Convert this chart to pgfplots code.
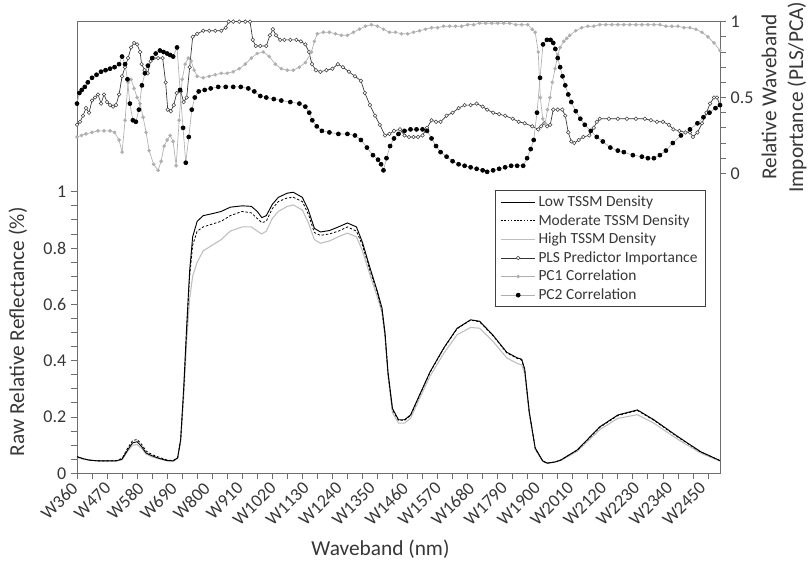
\documentclass[border=0pt]{standalone}
\usepackage{fontspec}
\setmainfont{Carlito}
\usepackage{pgfplots}
\usepackage{pgfplotstable}
\pgfplotsset{compat=1.18}
\definecolor{axgray}{RGB}{110,110,110}
\definecolor{txt}{RGB}{55,55,55}
\definecolor{lgray}{RGB}{190,190,190}
\definecolor{pcgray}{RGB}{175,175,175}

\pgfplotstableread{
nm low mod high
360 0.059 0.058 0.056
380 0.052 0.052 0.050
400 0.047 0.047 0.046
430 0.044 0.044 0.044
460 0.044 0.044 0.044
490 0.044 0.045 0.043
510 0.050 0.053 0.048
530 0.085 0.092 0.080
545 0.108 0.116 0.100
560 0.112 0.120 0.102
575 0.095 0.103 0.088
590 0.072 0.079 0.068
610 0.062 0.066 0.058
630 0.054 0.058 0.052
660 0.045 0.047 0.044
680 0.044 0.045 0.043
695 0.055 0.055 0.052
705 0.120 0.120 0.110
715 0.300 0.290 0.270
725 0.520 0.510 0.470
735 0.720 0.700 0.620
745 0.840 0.810 0.700
760 0.895 0.860 0.750
780 0.915 0.875 0.790
810 0.922 0.885 0.810
840 0.930 0.895 0.830
870 0.945 0.915 0.860
910 0.950 0.930 0.875
940 0.948 0.925 0.875
960 0.930 0.905 0.860
975 0.908 0.890 0.850
990 0.915 0.895 0.860
1010 0.955 0.940 0.905
1030 0.980 0.965 0.930
1060 0.995 0.978 0.948
1080 0.998 0.980 0.953
1110 0.980 0.965 0.935
1130 0.935 0.920 0.890
1150 0.870 0.855 0.830
1170 0.857 0.845 0.817
1200 0.862 0.850 0.825
1230 0.875 0.860 0.840
1260 0.889 0.875 0.853
1290 0.875 0.860 0.840
1310 0.820 0.810 0.790
1335 0.730 0.720 0.705
1360 0.645 0.640 0.625
1375 0.587 0.580 0.570
1385 0.500 0.495 0.485
1395 0.360 0.355 0.345
1410 0.230 0.225 0.215
1430 0.190 0.188 0.178
1450 0.190 0.188 0.178
1470 0.207 0.205 0.195
1500 0.278 0.276 0.265
1535 0.360 0.358 0.345
1580 0.444 0.442 0.425
1625 0.515 0.513 0.492
1670 0.545 0.544 0.518
1700 0.540 0.538 0.515
1745 0.490 0.488 0.468
1790 0.430 0.428 0.410
1825 0.410 0.408 0.390
1840 0.405 0.402 0.385
1850 0.370 0.368 0.355
1865 0.220 0.218 0.210
1885 0.090 0.088 0.085
1910 0.044 0.043 0.042
1925 0.036 0.036 0.035
1950 0.040 0.040 0.039
1970 0.047 0.047 0.045
2025 0.083 0.082 0.078
2100 0.165 0.163 0.155
2160 0.207 0.205 0.195
2225 0.225 0.223 0.208
2280 0.190 0.188 0.178
2360 0.130 0.128 0.120
2435 0.077 0.076 0.072
2500 0.045 0.045 0.043
}\refl

\pgfplotstableread{
nm v
360 0.32
370 0.34
380 0.38
390 0.43
400 0.40
410 0.48
420 0.50
430 0.52
440 0.46
450 0.52
460 0.47
470 0.45
480 0.44
490 0.45
500 0.52
510 0.64
520 0.70
530 0.76
540 0.83
550 0.86
560 0.85
570 0.80
575 0.72
585 0.68
595 0.66
605 0.74
615 0.76
630 0.76
645 0.76
655 0.60
662 0.42
672 0.41
682 0.45
692 0.53
705 0.54
715 0.47
725 0.50
735 0.70
745 0.90
760 0.92
780 0.94
800 0.94
820 0.94
840 0.94
855 0.96
865 1.00
880 1.00
900 1.00
920 1.00
936 1.00
945 0.88
955 0.84
970 0.84
990 0.84
1002 0.91
1012 0.95
1022 0.91
1036 0.88
1050 0.88
1070 0.88
1090 0.88
1105 0.87
1120 0.85
1132 0.80
1142 0.72
1155 0.68
1170 0.67
1190 0.68
1210 0.69
1228 0.72
1245 0.70
1265 0.67
1285 0.64
1305 0.61
1318 0.53
1335 0.45
1352 0.38
1368 0.32
1385 0.25
1400 0.26
1415 0.28
1435 0.29
1450 0.25
1465 0.24
1480 0.24
1495 0.24
1510 0.25
1525 0.30
1540 0.35
1555 0.34
1570 0.34
1590 0.38
1610 0.40
1630 0.43
1650 0.45
1670 0.45
1690 0.46
1710 0.44
1725 0.42
1745 0.40
1765 0.39
1785 0.38
1810 0.36
1830 0.34
1850 0.33
1875 0.31
1895 0.29
1905 0.31
1915 0.33
1925 0.31
1935 0.32
1945 0.42
1960 0.42
1975 0.42
1985 0.38
1995 0.27
2005 0.21
2015 0.20
2030 0.22
2045 0.24
2065 0.25
2080 0.30
2090 0.34
2100 0.36
2130 0.36
2160 0.36
2190 0.36
2220 0.36
2250 0.36
2270 0.35
2290 0.34
2310 0.34
2330 0.32
2345 0.29
2365 0.28
2385 0.27
2400 0.27
2410 0.24
2425 0.27
2440 0.33
2455 0.40
2467 0.46
2480 0.50
2490 0.50
2500 0.45
}\pls

\pgfplotstableread{
nm v
360 0.24
375 0.25
390 0.26
410 0.27
430 0.28
450 0.28
470 0.28
485 0.27
500 0.22
510 0.14
520 0.35
530 0.60
540 0.62
550 0.56
560 0.50
570 0.46
580 0.37
590 0.27
600 0.15
615 0.06
630 0.02
640 0.08
650 0.18
660 0.22
670 0.25
680 0.21
690 0.05
700 0.35
710 0.62
720 0.72
730 0.76
740 0.74
750 0.68
760 0.64
780 0.63
800 0.64
820 0.65
840 0.66
860 0.66
880 0.67
900 0.69
920 0.72
940 0.76
960 0.79
980 0.80
1000 0.77
1020 0.72
1040 0.69
1060 0.68
1080 0.68
1100 0.70
1120 0.73
1140 0.80
1150 0.87
1160 0.92
1180 0.93
1200 0.93
1220 0.92
1240 0.91
1260 0.91
1280 0.93
1300 0.95
1320 0.97
1340 0.98
1360 0.97
1380 0.95
1400 0.93
1420 0.93
1440 0.92
1460 0.92
1480 0.93
1500 0.94
1520 0.95
1540 0.96
1560 0.96
1580 0.97
1600 0.97
1620 0.97
1640 0.97
1660 0.98
1680 0.98
1700 0.99
1720 0.99
1740 0.99
1760 0.99
1780 0.99
1800 0.99
1820 0.98
1840 0.98
1860 0.98
1875 0.95
1885 0.93
1895 0.80
1902 0.50
1910 0.36
1918 0.33
1926 0.42
1934 0.50
1942 0.60
1951 0.69
1960 0.78
1968 0.83
1980 0.87
1990 0.89
2000 0.91
2020 0.94
2040 0.96
2060 0.97
2080 0.97
2100 0.98
2120 0.98
2140 0.98
2160 0.98
2180 0.98
2200 0.98
2220 0.98
2240 0.98
2260 0.98
2280 0.98
2300 0.98
2320 0.97
2340 0.97
2360 0.97
2380 0.96
2400 0.96
2420 0.95
2440 0.93
2460 0.90
2480 0.86
2500 0.81
}\pcone

\pgfplotstableread{
nm v
360 0.46
368 0.53
376 0.55
386 0.57
396 0.60
410 0.63
425 0.65
440 0.67
455 0.68
470 0.69
485 0.70
500 0.72
510 0.77
520 0.72
528 0.62
536 0.46
546 0.35
556 0.34
566 0.42
576 0.58
586 0.66
596 0.71
610 0.76
622 0.79
636 0.81
648 0.80
660 0.79
670 0.78
680 0.77
693 0.83
703 0.55
713 0.30
722 0.07
732 0.24
742 0.42
752 0.50
765 0.54
785 0.55
805 0.56
830 0.57
855 0.57
880 0.57
905 0.57
930 0.56
950 0.54
970 0.51
990 0.50
1015 0.49
1040 0.48
1070 0.47
1100 0.46
1120 0.44
1133 0.40
1143 0.35
1158 0.31
1175 0.28
1200 0.27
1230 0.26
1260 0.26
1285 0.25
1305 0.22
1325 0.17
1345 0.12
1362 0.09
1372 0.06
1380 0.02
1390 0.10
1402 0.18
1415 0.23
1430 0.26
1450 0.28
1470 0.29
1490 0.29
1510 0.29
1525 0.28
1540 0.23
1555 0.18
1570 0.14
1590 0.11
1610 0.08
1630 0.06
1650 0.05
1670 0.04
1690 0.03
1710 0.02
1725 0.01
1745 0.02
1765 0.03
1785 0.04
1805 0.05
1825 0.05
1845 0.05
1858 0.10
1870 0.16
1880 0.22
1891 0.40
1901 0.63
1911 0.85
1924 0.88
1936 0.88
1945 0.86
1952 0.82
1960 0.76
1968 0.70
1976 0.64
1985 0.58
1995 0.52
2005 0.47
2020 0.41
2035 0.36
2050 0.32
2070 0.28
2090 0.24
2110 0.21
2135 0.17
2160 0.15
2180 0.14
2210 0.12
2240 0.11
2260 0.10
2280 0.10
2300 0.12
2320 0.15
2343 0.20
2370 0.25
2400 0.29
2425 0.33
2445 0.37
2465 0.40
2485 0.43
2500 0.45
}\pctwo

\begin{document}
\begin{tikzpicture}
\path[use as bounding box] (-57.75pt,-65.8pt) rectangle (548.25pt,354.95pt);
\begin{axis}[
  at={(0,0)}, anchor=south west,
  scale only axis, width=482.25pt, height=338.7pt,
  xmin=360, xmax=2500, ymin=0, ymax=1.604,
  axis line style={axgray, line width=0.6pt},
  every tick/.style={axgray, line width=0.6pt},
  tick align=outside,
  major tick length=4.5pt, minor tick length=4.5pt,
  xtick pos=bottom, ytick pos=left,
  xtick={360,470,...,2450},
  xticklabels={W360,W470,W580,W690,W800,W910,W1020,W1130,W1240,W1350,W1460,W1570,W1680,W1790,W1900,W2010,W2120,W2230,W2340,W2450},
  major x tick style={draw=none},
  minor xtick={360,410,...,2500},
  ytick={0,0.2,0.4,0.6,0.8,1},
  minor ytick={0.05,0.1,0.15,0.25,0.3,0.35,0.45,0.5,0.55,0.65,0.7,0.75,0.85,0.9,0.95},
  /pgf/number format/assume math mode=true,
  tick label style={color=txt, font=\fontsize{13.5}{15}\selectfont},
  xticklabel style={rotate=45, anchor=east, xshift=-1pt, yshift=-2pt},
  xlabel={Waveband (nm)},
  xlabel style={font=\fontsize{16}{19}\selectfont, color=txt, at={(axis description cs:0.472,-0.168)}, anchor=center},
  ylabel={Raw Relative Reflectance (\%)},
  ylabel style={font=\fontsize{16}{19}\selectfont, color=txt, at={(axis description cs:-0.092,0.313)}, anchor=center, rotate=0},
]
\addplot[lgray, line width=0.8pt, no marks] table[x=nm, y=high] {\refl};
\addplot[black, line width=0.6pt, dash pattern=on 1.8pt off 1.4pt, no marks] table[x=nm, y=mod] {\refl};
\addplot[black, line width=0.7pt, no marks] table[x=nm, y=low] {\refl};
\end{axis}
\begin{axis}[
  at={(0,0)}, anchor=south west,
  scale only axis, width=482.25pt, height=338.7pt,
  xmin=360, xmax=2500, ymin=-1.977, ymax=1,
  axis x line=none, axis y line*=right,
  axis line style={axgray, line width=0.6pt},
  every tick/.style={axgray, line width=0.6pt},
  tick align=outside,
  major tick length=4.5pt, minor tick length=4.5pt,
  ytick={0,0.5,1},
  minor ytick={0.1,0.2,0.3,0.4,0.6,0.7,0.8,0.9},
  /pgf/number format/assume math mode=true,
  tick label style={color=txt, font=\fontsize{13.5}{15}\selectfont},
  ylabel={Relative Waveband\\Importance (PLS/PCA)},
  ylabel style={font=\fontsize{16}{20}\selectfont, color=txt, align=center, at={(axis description cs:1.0995,0.833)}, anchor=center, rotate=0},
  legend style={at={(0.978,0.627)}, anchor=north east, draw=black!75, line width=0.6pt, fill=white,
    font=\fontsize{11.6}{13}\selectfont, text=txt, row sep=0.4pt, inner xsep=4pt, inner ysep=2pt},
  legend cell align=left,
  legend image code/.code={\draw[mark repeat=2,mark phase=2,#1] plot coordinates {(0cm,0cm) (0.45cm,0cm) (0.9cm,0cm)};},
]
\addlegendimage{black, line width=0.7pt}
\addlegendentry{Low TSSM Density}
\addlegendimage{black, line width=0.6pt, dash pattern=on 1.2pt off 1.2pt}
\addlegendentry{Moderate TSSM Density}
\addlegendimage{lgray, line width=0.8pt}
\addlegendentry{High TSSM Density}
\addplot[black!80, line width=0.5pt, mark=*, mark size=1.35pt, mark options={fill=white, draw=black!75, line width=0.4pt}] table[x=nm, y=v] {\pls};
\addlegendentry{PLS Predictor Importance}
\addplot[pcgray, line width=0.5pt, mark=*, mark size=1.1pt, mark options={fill=pcgray, draw=pcgray}] table[x=nm, y=v] {\pcone};
\addlegendentry{PC1 Correlation}
\addplot[pcgray, line width=0.5pt, mark=*, mark size=1.5pt, mark options={fill=black, draw=black}] table[x=nm, y=v] {\pctwo};
\addlegendentry{PC2 Correlation}
\end{axis}
\end{tikzpicture}
\end{document}
